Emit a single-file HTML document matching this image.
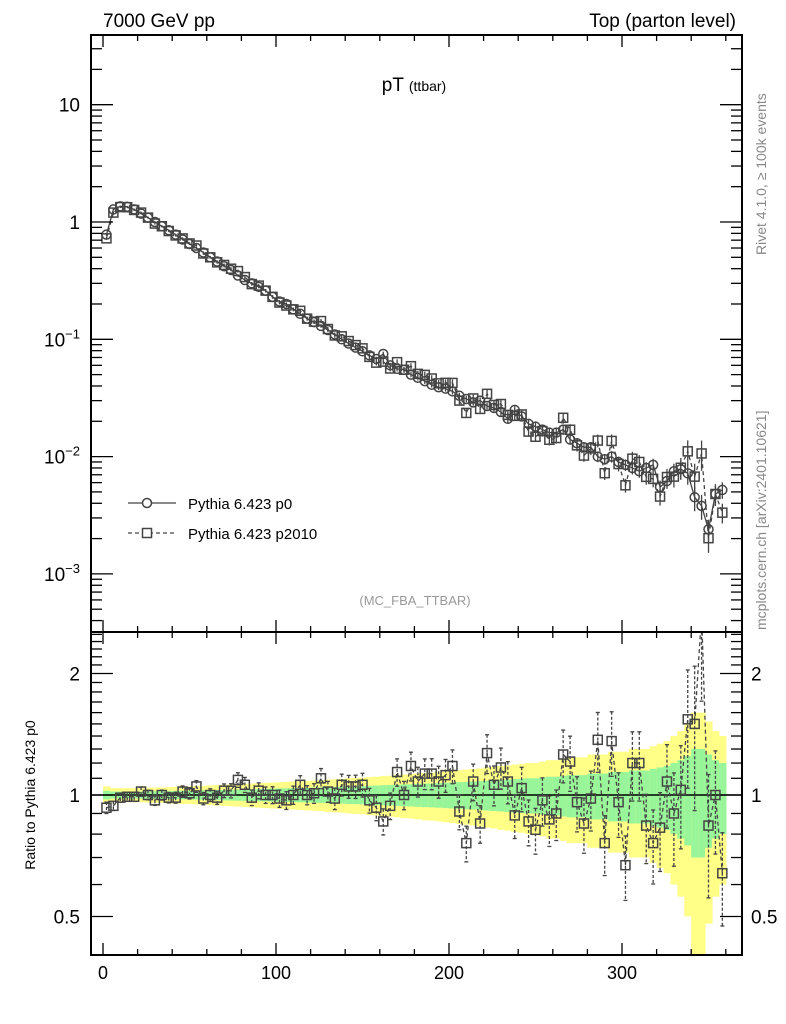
<!DOCTYPE html>
<html><head><meta charset="utf-8"><style>
html,body{margin:0;padding:0;background:#fff;}
svg{display:block;font-family:"Liberation Sans",sans-serif;}
</style></head><body>
<svg id="chartSvg" width="786" height="1024" viewBox="0 0 786 1024" xmlns="http://www.w3.org/2000/svg">
<defs>
<clipPath id="clipRatio"><rect x="91" y="632" width="651" height="323"/></clipPath>
<clipPath id="clipMain"><rect x="91" y="35" width="651" height="597"/></clipPath>
</defs>
<text x="103" y="27" font-size="19">7000 GeV pp</text>
<text x="736" y="27" font-size="19" text-anchor="end">Top (parton level)</text>
<text x="414" y="91" font-size="19" text-anchor="middle">pT <tspan font-size="14">(ttbar)</tspan></text>
<text x="415" y="605" font-size="13" fill="#999" text-anchor="middle">(MC_FBA_TTBAR)</text>
<text transform="translate(766,255) rotate(-90)" font-size="14" fill="#888">Rivet 4.1.0, ≥ 100k events</text>
<text transform="translate(766,630) rotate(-90)" font-size="14" fill="#888">mcplots.cern.ch [arXiv:2401.10621]</text>
<text transform="translate(35,795) rotate(-90)" font-size="14" text-anchor="middle">Ratio to Pythia 6.423 p0</text>
<g id="bandLayer" clip-path="url(#clipRatio)"></g>
<g id="mainLayer" clip-path="url(#clipMain)"></g>
<g id="ratioLayer" clip-path="url(#clipRatio)"></g>
<g id="axisLayer"></g>
<g>
<line x1="128" y1="503" x2="176" y2="503" stroke="#444" stroke-width="1.3"/>
<circle cx="147" cy="503" r="4.5" fill="#fff" stroke="#444" stroke-width="1.5"/>
<text x="188" y="509" font-size="15">Pythia 6.423 p0</text>
<line x1="128" y1="533" x2="176" y2="533" stroke="#444" stroke-width="1.3" stroke-dasharray="4,3"/>
<rect x="142.5" y="528.5" width="9" height="9" fill="#fff" stroke="#444" stroke-width="1.5"/>
<text x="188" y="539" font-size="15">Pythia 6.423 p2010</text>
</g>
</svg>
<script>
var binCenters = [];
for (var bi = 0; bi < 90; bi++) { binCenters.push(2 + 4 * bi); }
var p0Values = [0.78,1.28,1.36,1.35,1.28,1.18,1.09,1.0,0.92,0.85,0.78,0.71,0.65,0.60,0.55,0.50,0.46,0.42,0.39,0.35,0.32,0.30,0.28,0.26,0.23,0.21,0.20,0.18,0.165,0.15,0.14,0.13,0.12,0.11,0.10,0.092,0.085,0.079,0.073,0.068,0.075,0.060,0.056,0.055,0.050,0.047,0.044,0.041,0.039,0.038,0.036,0.033,0.031,0.029,0.030,0.027,0.026,0.024,0.021,0.025,0.022,0.019,0.018,0.017,0.016,0.016,0.017,0.014,0.013,0.012,0.012,0.010,0.0095,0.010,0.009,0.0085,0.008,0.0075,0.008,0.0085,0.0055,0.0062,0.0075,0.0078,0.0072,0.0045,0.0038,0.0024,0.0048,0.0052];
var ratioValues = [0.93,0.94,0.985,0.99,0.99,1.02,1.0,0.97,1.0,0.985,0.985,1.02,1.01,1.05,0.98,1.0,0.985,1.025,1.025,1.09,1.06,0.985,1.025,1.0,1.0,0.98,0.97,1.0,1.06,1.0,1.01,1.10,1.02,0.98,1.06,1.05,1.05,1.06,0.97,0.93,0.86,0.94,1.14,1.0,1.18,1.08,1.13,1.13,1.08,1.12,1.18,0.91,0.76,1.08,0.85,1.27,1.06,1.17,1.08,0.89,1.04,0.86,0.82,0.97,0.87,0.90,1.26,1.21,0.96,0.85,0.98,1.37,0.76,1.36,0.96,0.67,1.20,1.20,0.84,0.76,0.83,1.08,0.90,1.03,1.54,1.50,2.8,0.84,1.0,0.64];
var relErr = [.025,.02,.02,.02,.02,.02,.021,.022,.022,.023,.024,.025,.025,.026,.027,.028,.029,.03,.031,.032,.033,.034,.035,.036,.037,.038,.039,.04,.041,.042,.043,.044,.046,.047,.048,.05,.051,.052,.054,.055,.057,.058,.06,.062,.063,.065,.067,.068,.07,.072,.074,.076,.078,.08,.082,.085,.087,.09,.092,.095,.097,.1,.1,.105,.11,.11,.115,.12,.12,.12,.13,.13,.13,.14,.14,.14,.15,.15,.15,.16,.17,.18,.2,.22,.25,.3,.3,.26,.22,.2];
var xTickValues = [0,100,200,300];
var mainTickValues = [10,1,0.1,0.01,0.001];
var mainTickBase = ["10","1","10","10","10"];
var mainTickExp = ["","","−1","−2","−3"];
var ratioTickValues = [2,1,0.5];
var ratioTickLabels = ["2","1","0.5"];

var svgNS = "http://www.w3.org/2000/svg";
var fLeft = 91, fRight = 742, fTop = 35, fMid = 632, fBot = 955;
function xPos(v) { return 103 + v * 1.73; }
function yMain(v) { return 222 - Math.log(v) / Math.LN10 * 117.3; }
function yRatio(v) { return 795 - Math.log(v) / Math.LN2 * 121.5; }
function mkEl(parent, tag, attrs) {
  var el = document.createElementNS(svgNS, tag);
  for (var k in attrs) { el.setAttribute(k, attrs[k]); }
  parent.appendChild(el);
  return el;
}
var bandLayer = document.getElementById('bandLayer');
var mainLayer = document.getElementById('mainLayer');
var ratioLayer = document.getElementById('ratioLayer');
var axisLayer = document.getElementById('axisLayer');

try {
  for (var i = 0; i < binCenters.length; i++) {
    var c = binCenters[i], x0 = xPos(c - 2), x1 = xPos(c + 2), e = relErr[i];
    var yTop = yRatio(1 + 2 * e), yBot = yRatio(Math.max(1 - 2 * e, 0.3));
    var yb = mkEl(bandLayer, 'rect', {x: x0, y: yTop, width: x1 - x0 + 0.6, height: yBot - yTop, fill: '#ffff88'});
    
    
    var gTop = yRatio(1 + e), gBot = yRatio(1 - e);
    var gb = mkEl(bandLayer, 'rect', {x: x0, y: gTop, width: x1 - x0 + 0.6, height: gBot - gTop, fill: '#99f599'});
    
    
  }
  mkEl(bandLayer, 'line', {x1: fLeft, x2: fRight, y1: yRatio(1), y2: yRatio(1), stroke: '#000', 'stroke-width': 1.5});
} catch (err) {}

try {
  var pts0 = [], pts1 = [], ptsR = [];
  for (var i = 0; i < binCenters.length; i++) {
    pts0.push(xPos(binCenters[i]) + ',' + yMain(p0Values[i]));
    pts1.push(xPos(binCenters[i]) + ',' + yMain(p0Values[i] * ratioValues[i]));
    ptsR.push(xPos(binCenters[i]) + ',' + yRatio(ratioValues[i]));
  }
  var l0 = mkEl(mainLayer, 'polyline', {points: pts0.join(' '), fill: 'none', stroke: '#444', 'stroke-width': 1.3});
  
  
  var l1 = mkEl(mainLayer, 'polyline', {points: pts1.join(' '), fill: 'none', stroke: '#444', 'stroke-width': 1.3, 'stroke-dasharray': '4,3'});
  
  
  var l2 = mkEl(ratioLayer, 'polyline', {points: ptsR.join(' '), fill: 'none', stroke: '#444', 'stroke-width': 1.3, 'stroke-dasharray': '4,3'});
  
  
  for (var i = 0; i < binCenters.length; i++) {
    var x = xPos(binCenters[i]), v = p0Values[i], ee = relErr[i] * 0.8, r = ratioValues[i], v2 = v * r;
    mkEl(mainLayer, 'line', {x1: x, x2: x, y1: yMain(v * (1 + ee)), y2: yMain(v * (1 - ee)), stroke: '#444', 'stroke-width': 1.3});
    var ci = mkEl(mainLayer, 'circle', {cx: x, cy: yMain(v), r: 4.5, fill: 'none', stroke: '#444', 'stroke-width': 1.5});
    
    
    mkEl(mainLayer, 'line', {x1: x, x2: x, y1: yMain(v2 * (1 + ee * 1.2)), y2: yMain(v2 * (1 - ee * 1.2)), stroke: '#444', 'stroke-width': 1.3});
    var sq = mkEl(mainLayer, 'rect', {x: x - 4.5, y: yMain(v2) - 4.5, width: 9, height: 9, fill: 'none', stroke: '#444', 'stroke-width': 1.5});
    
    
    var re = relErr[i] * 1.3;
    var yu = yRatio(r * (1 + re)), yd = yRatio(r * Math.max(1 - re, 0.05));
    mkEl(ratioLayer, 'line', {x1: x, x2: x, y1: yu, y2: yd, stroke: '#444', 'stroke-width': 1.3, 'stroke-dasharray': '3,2'});
    mkEl(ratioLayer, 'line', {x1: x - 2, x2: x + 2, y1: yu, y2: yu, stroke: '#444', 'stroke-width': 1.3});
    mkEl(ratioLayer, 'line', {x1: x - 2, x2: x + 2, y1: yd, y2: yd, stroke: '#444', 'stroke-width': 1.3});
    var rs = mkEl(ratioLayer, 'rect', {x: x - 4.5, y: yRatio(r) - 4.5, width: 9, height: 9, fill: 'none', stroke: '#444', 'stroke-width': 1.5});
    
    
  }
} catch (err) {}

function tick(ax1, ay1, ax2, ay2) {
  mkEl(axisLayer, 'line', {x1: ax1, y1: ay1, x2: ax2, y2: ay2, stroke: '#000', 'stroke-width': 1.3});
}
try {
  mkEl(axisLayer, 'rect', {x: fLeft, y: fTop, width: fRight - fLeft, height: fMid - fTop, fill: 'none', stroke: '#000', 'stroke-width': 2});
  mkEl(axisLayer, 'rect', {x: fLeft, y: fMid, width: fRight - fLeft, height: fBot - fMid, fill: 'none', stroke: '#000', 'stroke-width': 2});
  for (var v = 0; v <= 360; v += 20) {
    var x = xPos(v), len = (v % 100 === 0) ? 12 : 6;
    tick(x, fTop, x, fTop + len); tick(x, fMid, x, fMid + len);
    tick(x, fMid, x, fMid - len); tick(x, fBot, x, fBot - len);
  }
  for (var i = 0; i < xTickValues.length; i++) {
    var t = mkEl(axisLayer, 'text', {x: xPos(xTickValues[i]), y: 979, 'font-size': 18, 'text-anchor': 'middle'});
    t.textContent = String(xTickValues[i]);
    
    
  }
  for (var d = -4; d <= 1; d++) {
    for (var m = 1; m < 10; m++) {
      var y = yMain(m * Math.pow(10, d));
      if (y < fTop || y > fMid) continue;
      var len = (m === 1) ? 22 : 11;
      tick(fLeft, y, fLeft + len, y); tick(fRight, y, fRight - len, y);
    }
  }
  for (var i = 0; i < mainTickValues.length; i++) {
    var t = mkEl(axisLayer, 'text', {x: 80, y: yMain(mainTickValues[i]) + 7, 'font-size': 19, 'text-anchor': 'end'});
    t.textContent = mainTickBase[i];
    if (mainTickExp[i]) {
      var s = mkEl(t, 'tspan', {dy: -8, 'font-size': 13});
      s.textContent = mainTickExp[i];
    }
    
    
  }
  var minorR = [0.4,0.5,0.6,0.7,0.8,0.9,1,1.1,1.2,1.3,1.4,1.5,1.6,1.7,1.8,1.9,2,2.1,2.2,2.3,2.4,2.5];
  for (var i = 0; i < minorR.length; i++) {
    var y = yRatio(minorR[i]);
    if (y < fMid || y > fBot) continue;
    var mv = minorR[i];
    var len = (mv === 1 || mv === 2 || mv === 0.5) ? 22 : 11;
    tick(fLeft, y, fLeft + len, y); tick(fRight, y, fRight - len, y);
  }
  for (var i = 0; i < ratioTickValues.length; i++) {
    var t = mkEl(axisLayer, 'text', {x: 80, y: yRatio(ratioTickValues[i]) + 7, 'font-size': 19, 'text-anchor': 'end'});
    t.textContent = ratioTickLabels[i];
    
    
    var t2 = mkEl(axisLayer, 'text', {x: 751, y: yRatio(ratioTickValues[i]) + 7, 'font-size': 19});
    t2.textContent = ratioTickLabels[i];
    
    
  }
} catch (err) {}
</script>
</body></html>
